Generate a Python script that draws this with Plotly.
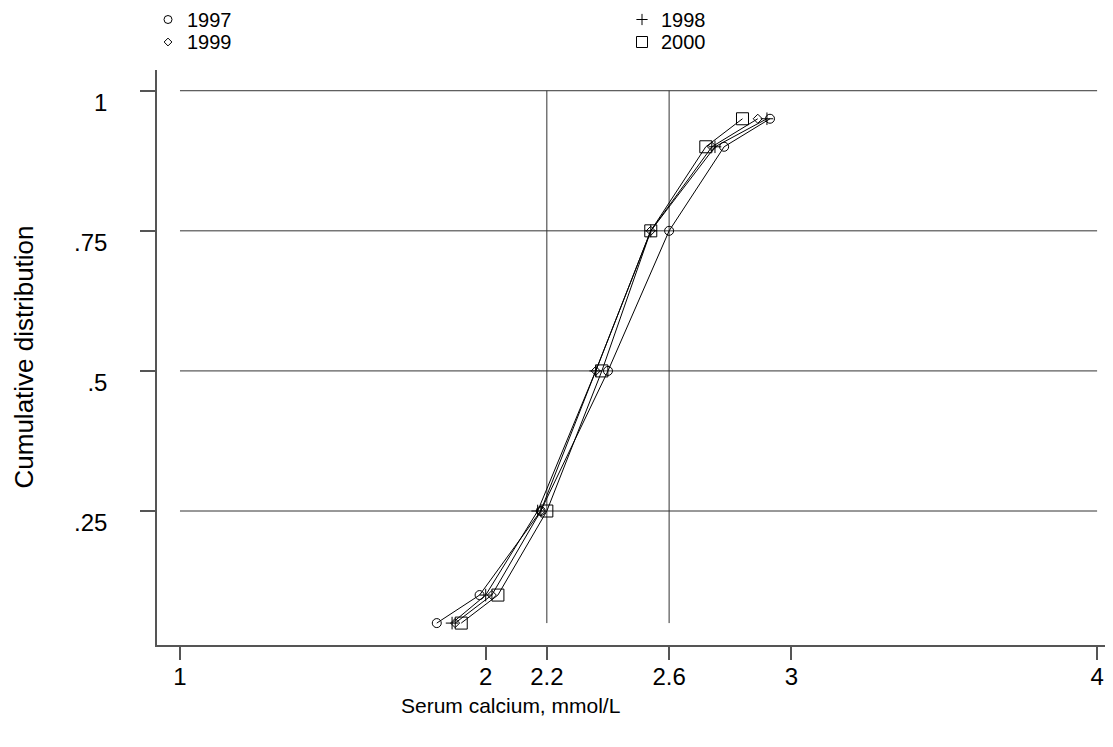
import plotly.graph_objects as go

# cumulative probabilities (quantiles) and serum calcium per year
probs = [0.05, 0.10, 0.25, 0.50, 0.75, 0.90, 0.95]
ca_1997 = [1.84, 1.98, 2.18, 2.40, 2.60, 2.78, 2.93]
ca_1998 = [1.89, 2.00, 2.17, 2.36, 2.54, 2.75, 2.92]
ca_1999 = [1.90, 2.02, 2.18, 2.36, 2.54, 2.74, 2.89]
ca_2000 = [1.92, 2.04, 2.20, 2.38, 2.54, 2.72, 2.84]

years = ["1997", "1998", "1999", "2000"]
series = [ca_1997, ca_1998, ca_1999, ca_2000]
symbols = ["circle-open", "cross-thin-open", "diamond-open", "square-open"]
sizes = [9, 9, 7, 12]

x_ticks = [1, 2, 2.2, 2.6, 3, 4]
y_ticks = [0.25, 0.5, 0.75, 1]
y_ticktext = [".25", ".5", ".75", "1"]
ref_x = [2.2, 2.6]

FONT = "Liberation Sans, Arial, sans-serif"
AX = "#555555"

X_RANGE = [0.9248, 4.052]
Y_RANGE = [0.0109, 1.037]
# page pixels (the page adds an 8px body margin)
PL, PR, PT, PB = 157, 1113, 70, 645
TOP = 8
main_top = (PB - PT) / (PB - TOP)

fig = go.Figure()

for yr, vals, sym, sz in zip(years, series, symbols, sizes):
    fig.add_trace(go.Scatter(
        x=vals, y=probs, mode="lines+markers", showlegend=False, name=yr,
        line=dict(color="black", width=1),
        marker=dict(symbol=sym, size=sz, color="black", line=dict(width=1, color="black")),
    ))

# key above the plot, drawn on a pixel-scaled overlay axis
key_x = [168, 168, 642, 642]
key_y = [19.5, 42, 19.5, 42]
key_order = [0, 2, 1, 3]  # 1997, 1999 | 1998, 2000
annotations = []
for i, k in enumerate(key_order):
    fig.add_trace(go.Scatter(
        x=[key_x[i]], y=[key_y[i]], xaxis="x2", yaxis="y2", mode="markers",
        showlegend=False, hoverinfo="skip",
        marker=dict(symbol=symbols[k], size=sizes[k] - 1, color="black",
                    line=dict(width=1, color="black")),
    ))
    annotations.append(dict(
        text=years[k], x=key_x[i] + 18, y=key_y[i], xref="x2", yref="y2",
        xanchor="left", yanchor="middle", showarrow=False, font=dict(size=20),
        borderpad=0,
    ))

# horizontal reference lines
for yv in y_ticks:
    fig.add_shape(type="line", x0=x_ticks[0], x1=x_ticks[-1], y0=yv, y1=yv,
                  line=dict(color="#333333", width=1), layer="below")
# vertical reference lines
for xv in ref_x:
    fig.add_shape(type="line", x0=xv, x1=xv, y0=probs[0], y1=1,
                  line=dict(color="#333333", width=1), layer="below")

annotations += [
    dict(text="Serum calcium, mmol/L", xref="paper", yref="paper",
         x=(510 - PL) / (PR - PL), y=(PB - 705) / (PB - TOP),
         xanchor="center", yanchor="middle", showarrow=False, font=dict(size=21)),
    dict(text="Cumulative distribution", xref="paper", yref="paper",
         x=(23 - PL) / (PR - PL), y=(PB - (PT + PB) / 2) / (PB - TOP),
         xanchor="center", yanchor="middle", textangle=-90,
         showarrow=False, font=dict(size=26)),
]

fig.update_layout(
    width=1113, height=747,
    margin=dict(l=149, r=8, t=0, b=110),
    plot_bgcolor="white", paper_bgcolor="white",
    font=dict(family=FONT, size=24, color="black"),
    showlegend=False,
    xaxis=dict(
        range=X_RANGE, showgrid=False, zeroline=False,
        showline=True, linecolor=AX, linewidth=1.5,
        ticks="outside", ticklen=13, tickcolor=AX, tickwidth=1.5,
        tickvals=x_ticks, ticktext=[str(v) for v in x_ticks],
        tickfont=dict(size=24), ticklabelstandoff=-4,
    ),
    yaxis=dict(
        domain=[0, main_top],
        range=Y_RANGE, showgrid=False, zeroline=False,
        showline=True, linecolor=AX, linewidth=1.5,
        ticks="outside", ticklen=15, tickcolor=AX, tickwidth=1.5,
        tickvals=y_ticks, ticktext=y_ticktext,
        tickfont=dict(size=24), ticklabelstandoff=28, ticklabelshift=12,
    ),
    xaxis2=dict(domain=[0, 1], range=[PL, PR], visible=False, anchor="y2"),
    yaxis2=dict(domain=[main_top, 1], range=[PT, TOP], visible=False, anchor="x2"),
    annotations=annotations,
)

fig.write_html("out.html")
